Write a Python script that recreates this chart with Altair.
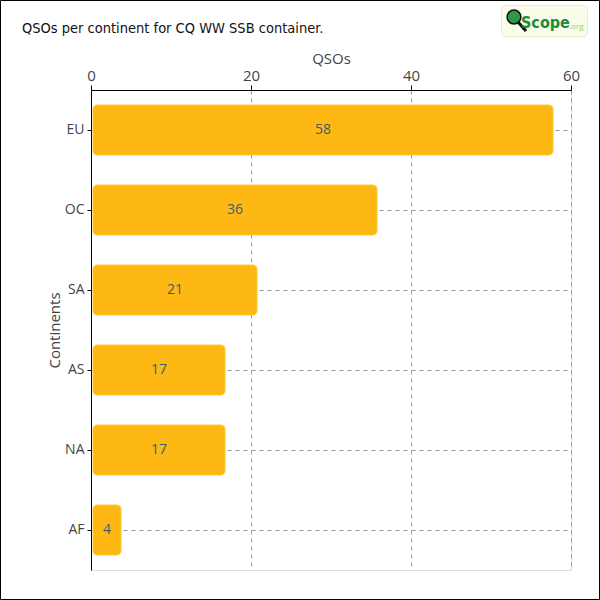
import altair as alt
import pandas as pd

# QSO counts per continent
continents = ["EU", "OC", "SA", "AS", "NA", "AF"]
qsos = [58, 36, 21, 17, 17, 4]

df = pd.DataFrame({"continent": continents, "qsos": qsos})
one = pd.DataFrame({"k": [0]})  # single row for decorations

FONT = "Open Sans"
LEFT, TOP = 91, 90
W, H = 480, 480

y_enc = alt.Y(
    "continent:N",
    sort=continents,
    scale=alt.Scale(paddingInner=0.375, paddingOuter=0.1875),
    axis=alt.Axis(
        title="Continents", titleFontSize=15, titleFont=FONT, titleFontWeight="normal",
        titleColor="#444", titlePadding=2,
        labelFontSize=14, labelFont=FONT, labelColor="#444", labelPadding=3,
        domainColor="#000", tickColor="#000", tickSize=4,
        grid=True, gridDash=[4, 4], gridColor="#999",
    ),
)
x_scale = alt.Scale(domain=[0, 60], nice=False)
x_enc = alt.X(
    "qsos:Q",
    scale=x_scale,
    stack=None,
    axis=alt.Axis(
        orient="top", values=[0, 20, 40, 60], title="QSOs",
        titleFontSize=15, titleFont=FONT, titleFontWeight="normal", titleColor="#444",
        titlePadding=2, labelFlush=False,
        labelFontSize=15, labelFont=FONT, labelColor="#444", labelPadding=2,
        domainColor="#000", tickColor="#000", tickSize=5,
        grid=True, gridDash=[4, 4], gridColor="#999",
    ),
)

# bars are inset 2px from the zero line and from their value
bars = alt.Chart(df).mark_bar(
    color="#FDB813", stroke="#FFC933", strokeWidth=1, cornerRadius=4,
    xOffset=-2, x2Offset=2,
).encode(x=x_enc, x2=alt.datum(0), y=y_enc)

labels = alt.Chart(df).mark_text(
    font=FONT, fontSize=14, color="#3a5f6e",
).encode(
    x=alt.X("mid:Q", scale=x_scale),
    y=alt.Y("continent:N", sort=continents),
    text="qsos:Q",
).transform_calculate(mid="datum.qsos / 2")

# outer frame around the whole figure
frame = alt.Chart(one).mark_rect(fill=None, stroke="#000", strokeWidth=1).encode(
    x=alt.value(-LEFT + 0.5), x2=alt.value(600 - LEFT - 0.5),
    y=alt.value(-TOP + 0.5), y2=alt.value(600 - TOP - 0.5),
)

title = alt.Chart(one).mark_text(
    text="QSOs per continent for CQ WW SSB container.",
    font="DejaVu Sans Condensed", fontSize=14.5, color="#111", align="left", baseline="alphabetic",
).encode(x=alt.value(22 - LEFT), y=alt.value(33 - TOP))

# QScope.org badge
badge = alt.Chart(one).mark_rect(
    fill="#FBFDEB", stroke="#E6EEC4", strokeWidth=1, cornerRadius=4,
).encode(
    x=alt.value(501.5 - LEFT), x2=alt.value(587.5 - LEFT),
    y=alt.value(5.5 - TOP), y2=alt.value(36.5 - TOP),
)
handle = alt.Chart(one).mark_rule(stroke="#111", strokeWidth=3).encode(
    x=alt.value(518 - LEFT), x2=alt.value(526 - LEFT),
    y=alt.value(22 - TOP), y2=alt.value(31 - TOP),
)
lens = alt.Chart(one).mark_point(
    shape="circle", size=190, filled=True, fill="#2E9A48", stroke="#111", strokeWidth=1.5, opacity=1,
).encode(x=alt.value(514 - LEFT), y=alt.value(17 - TOP))
scope_txt = alt.Chart(one).mark_text(
    text="Scope", font="DejaVu Sans Condensed", fontSize=16, fontWeight="bold",
    color="#1E8C3A", align="left", baseline="alphabetic",
).encode(x=alt.value(521 - LEFT), y=alt.value(28 - TOP))
org_txt = alt.Chart(one).mark_text(
    text=".org", font=FONT, fontSize=8, color="#8FCB7C", align="left", baseline="alphabetic",
).encode(x=alt.value(569 - LEFT), y=alt.value(29 - TOP))

chart = alt.layer(
    bars, labels, frame, title, badge, handle, lens, scope_txt, org_txt
).properties(
    width=W, height=H,
    autosize=alt.AutoSizeParams(type="none"),
    padding={"left": LEFT, "top": TOP, "right": 600 - LEFT - W, "bottom": 600 - TOP - H},
).configure_view(stroke=None).configure(background="white")

chart.save("out.html", embed_options={"renderer": "svg", "actions": False})
